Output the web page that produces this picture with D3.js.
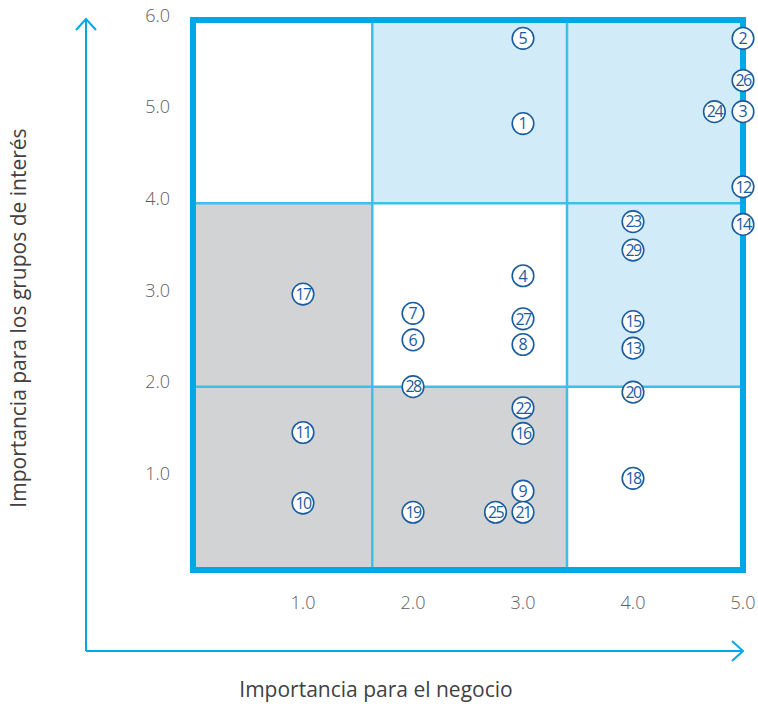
<!DOCTYPE html>
<html><head><meta charset="utf-8">
<script src="https://cdn.jsdelivr.net/npm/d3@7/dist/d3.min.js"></script>
<style>html,body{margin:0;padding:0;background:#fff;}svg{display:block;}</style>
</head><body>
<svg id="chart" width="758" height="704"></svg>
<script>
// ---- data ----
const ids = [1,2,3,4,5,6,7,8,9,10,11,12,13,14,15,16,17,18,19,20,21,22,23,24,25,26,27,28,29];
const xs  = [3.0,5.0,5.0,3.0,3.0,2.0,2.0,3.0,3.0,1.0,1.0,5.0,4.0,5.0,4.0,3.0,1.0,4.0,2.0,4.0,3.0,3.0,4.0,4.74,2.75,5.0,3.0,2.0,4.0];
const ys  = [4.87,5.80,5.0,3.21,5.80,2.51,2.80,2.46,0.86,0.73,1.50,4.18,2.42,3.77,2.71,1.49,3.01,1.00,0.63,1.94,0.63,1.77,3.80,5.0,0.63,5.34,2.74,2.00,3.49];
const xTicks = [1,2,3,4,5];
const yTicks = [1,2,3,4,5,6];
const xBreaks = [0, 1.63, 3.4, 5];
const yBreaks = [0, 2, 4, 6];
// cell fill classes: rows from bottom (0) to top (2), columns left to right
const cellKinds = [
  ["gray","gray","white"],
  ["gray","white","blue"],
  ["white","blue","blue"]
];
const xTitle = "Importancia para el negocio";
const yTitle = "Importancia para los grupos de interés";

// ---- drawing ----
const svg = d3.select("#chart");
const x = d3.scaleLinear().domain([0,5]).range([193,743]);
const y = d3.scaleLinear().domain([0,6]).range([570,20]);
const fills = {gray:"#d1d3d4", white:"#ffffff", blue:"#d2ebf9"};
const frameBlue = "#00a8e6", gridBlue = "#3fbdec", dark = "#1b5c9e";

// cells
const cells = [];
cellKinds.forEach((row, r) => row.forEach((k, c) => cells.push({r, c, k})));
svg.append("g").selectAll("rect").data(cells).join("rect")
  .attr("x", d => x(xBreaks[d.c]))
  .attr("y", d => y(yBreaks[d.r+1]))
  .attr("width", d => x(xBreaks[d.c+1]) - x(xBreaks[d.c]))
  .attr("height", d => y(yBreaks[d.r]) - y(yBreaks[d.r+1]))
  .attr("fill", d => fills[d.k]);

// inner grid lines
const g = svg.append("g").attr("stroke", gridBlue).attr("stroke-width", 2.5);
xBreaks.slice(1,-1).forEach(v => g.append("line").attr("x1", x(v)).attr("x2", x(v)).attr("y1", y(6)).attr("y2", y(0)));
yBreaks.slice(1,-1).forEach(v => g.append("line").attr("y1", y(v)).attr("y2", y(v)).attr("x1", x(0)).attr("x2", x(5)));

// frame
svg.append("rect").attr("x", x(0)).attr("y", y(6)).attr("width", x(5)-x(0)).attr("height", y(0)-y(6))
  .attr("fill","none").attr("stroke", frameBlue).attr("stroke-width", 6);

// tick labels
const tickFont = "'Open Sans', sans-serif";
svg.append("g").selectAll("text").data(xTicks).join("text")
  .attr("x", d => x(d)).attr("y", 609).attr("text-anchor","middle")
  .attr("font-family", tickFont).attr("font-weight", 300).attr("font-size", 18).attr("fill","#5f6064")
  .text(d => d.toFixed(1));
svg.append("g").selectAll("text").data(yTicks).join("text")
  .attr("x", 170).attr("y", d => y(d) - 3).attr("text-anchor","end").attr("dominant-baseline","middle")
  .attr("font-family", tickFont).attr("font-weight", 300).attr("font-size", 18).attr("fill","#5f6064")
  .text(d => d.toFixed(1));

// axis arrows
const ax = svg.append("g").attr("stroke", frameBlue).attr("stroke-width", 2).attr("fill","none");
ax.append("line").attr("x1", 86).attr("x2", 86).attr("y1", 651).attr("y2", 19);
ax.append("path").attr("d", "M76,30 L86,19 L96,30");
ax.append("line").attr("x1", 86).attr("x2", 743).attr("y1", 651).attr("y2", 651);
ax.append("path").attr("d", "M732,641 L743,651 L732,661");

// axis titles
svg.append("text").attr("x", 376).attr("y", 697).attr("text-anchor","middle")
  .attr("font-family", tickFont).attr("font-size", 21).attr("fill","#414042").text(xTitle);
svg.append("text").attr("transform","translate(26,318) rotate(-90)").attr("text-anchor","middle")
  .attr("font-family", tickFont).attr("font-size", 21).attr("fill","#414042").text(yTitle);

// points
const pts = ids.map((id,i) => ({id, vx: xs[i], vy: ys[i]}));
const pg = svg.append("g").selectAll("g").data(pts).join("g")
  .attr("transform", d => `translate(${x(d.vx)},${y(d.vy)})`);
pg.append("circle").attr("r", 10.8).attr("fill","#fff").attr("stroke", dark).attr("stroke-width", 1.6);
pg.append("text").attr("text-anchor","middle").attr("dy", "0.36em")
  .attr("font-family", "'Open Sans', sans-serif").attr("font-size", 16)
  .attr("letter-spacing", d => d.id >= 10 ? -1.6 : 0)
  .attr("fill", dark).text(d => d.id);
</script>
</body></html>
